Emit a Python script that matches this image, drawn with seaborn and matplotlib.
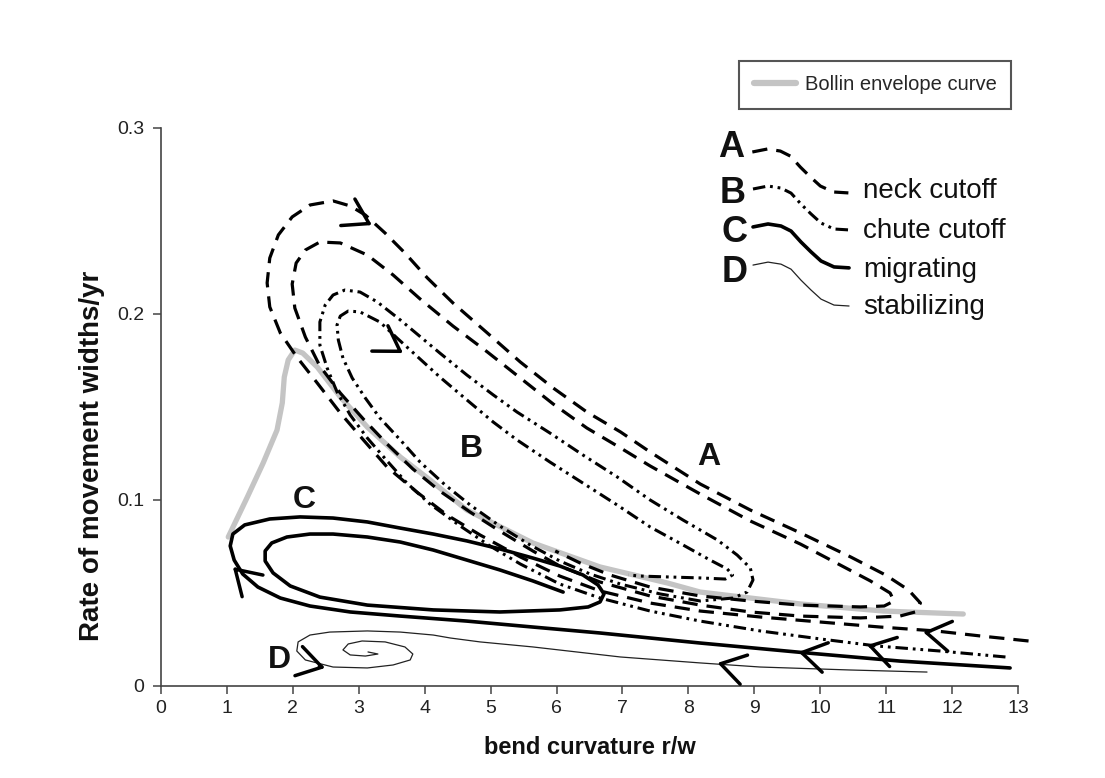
import matplotlib
matplotlib.use("Agg")
import matplotlib.pyplot as plt
import numpy as np
import pandas as pd
import seaborn as sns
from matplotlib.lines import Line2D

# ---------------- data ----------------
# A: neck cutoff (dashed spiral)
A_x = [13.16, 12.43, 11.75, 10.91, 10.00, 9.09, 8.18, 7.42, 6.66, 6.05, 5.45, 4.84, 4.34, 3.88, 3.43, 3.07,
       2.72, 2.37, 2.06, 1.81, 1.65, 1.61, 1.65, 1.78, 1.99, 2.26, 2.61, 2.87, 3.10, 3.40, 3.70, 4.04, 4.43,
       4.95, 5.45, 5.95, 6.46, 6.97, 7.42, 8.18, 8.94, 9.70, 10.46, 10.99, 11.34, 11.52, 11.44, 11.21, 10.61,
       9.70, 8.94, 8.18, 7.42, 6.66, 6.05, 5.64, 5.14, 4.69, 4.23, 3.82, 3.43, 3.07, 2.72, 2.41, 2.19, 2.03,
       1.99, 2.05, 2.19, 2.41, 2.72, 3.13, 3.52, 3.93, 4.43, 4.95, 5.45, 5.95, 6.46, 6.97, 7.42, 8.18, 8.94,
       9.70, 10.30, 10.76, 11.06, 11.12, 10.97, 10.61, 9.70, 8.94, 8.18, 7.42, 6.81, 6.36, 5.98]
A_y = [0.0242, 0.0269, 0.0296, 0.0317, 0.0344, 0.0371, 0.0403, 0.0446, 0.0511, 0.0591, 0.0694, 0.0812, 0.0919,
       0.1043, 0.1177, 0.1323, 0.1468, 0.1629, 0.1769, 0.1898, 0.2038, 0.2167, 0.2301, 0.2425, 0.2522, 0.2586,
       0.2608, 0.2581, 0.2532, 0.2435, 0.2328, 0.2194, 0.2059, 0.1898, 0.1742, 0.1602, 0.1473, 0.1366, 0.1258,
       0.1086, 0.0946, 0.0823, 0.0694, 0.0597, 0.0516, 0.0446, 0.0398, 0.0376, 0.0366, 0.0376, 0.0398, 0.0435,
       0.0484, 0.0559, 0.0645, 0.0726, 0.0833, 0.0935, 0.1048, 0.1167, 0.1301, 0.1435, 0.1575, 0.1720, 0.1876,
       0.2032, 0.2161, 0.2274, 0.2344, 0.2387, 0.2382, 0.2317, 0.2210, 0.2081, 0.1935, 0.1796, 0.1656, 0.1516,
       0.1387, 0.1280, 0.1183, 0.1032, 0.0887, 0.0763, 0.0651, 0.0565, 0.0500, 0.0457, 0.0430, 0.0425, 0.0435,
       0.0457, 0.0484, 0.0532, 0.0597, 0.0661, 0.0726]

# B: chute cutoff (dash-dot-dot spiral)
B_x = [12.81, 11.82, 10.86, 10.00, 9.09, 8.18, 7.42, 6.66, 6.05, 5.45, 4.99, 4.54, 4.08, 3.73, 3.43, 3.13, 2.87,
       2.67, 2.52, 2.41, 2.41, 2.49, 2.61, 2.79, 3.02, 3.28, 3.63, 4.23, 4.64, 5.04, 5.40, 5.90, 6.40, 6.92,
       7.42, 7.92, 8.44, 8.74, 8.94, 8.98, 8.89, 8.68, 8.18, 7.57, 6.97, 6.51, 6.05, 5.60, 5.14, 4.69, 4.31,
       3.93, 3.63, 3.32, 3.10, 2.90, 2.76, 2.69, 2.67, 2.72, 2.84, 3.02, 3.32, 3.58, 3.88, 4.23, 4.64, 5.04,
       5.40, 5.90, 6.40, 6.92, 7.42, 7.92, 8.33, 8.59, 8.67, 8.56, 8.18, 7.72, 7.27, 7.09]
B_y = [0.0156, 0.0188, 0.0215, 0.0253, 0.0296, 0.0349, 0.0403, 0.0473, 0.0548, 0.0656, 0.0753, 0.0860, 0.0978,
       0.1091, 0.1210, 0.1333, 0.1457, 0.1581, 0.1710, 0.1833, 0.1957, 0.2048, 0.2102, 0.2129, 0.2118, 0.2065,
       0.1968, 0.1790, 0.1672, 0.1565, 0.1473, 0.1360, 0.1242, 0.1124, 0.1000, 0.0892, 0.0785, 0.0704, 0.0634,
       0.0570, 0.0505, 0.0473, 0.0457, 0.0495, 0.0548, 0.0602, 0.0672, 0.0758, 0.0860, 0.0973, 0.1081, 0.1204,
       0.1323, 0.1441, 0.1548, 0.1656, 0.1763, 0.1860, 0.1941, 0.1989, 0.2016, 0.2011, 0.1957, 0.1871, 0.1774,
       0.1661, 0.1538, 0.1419, 0.1323, 0.1204, 0.1091, 0.0973, 0.0855, 0.0758, 0.0677, 0.0629, 0.0597, 0.0575,
       0.0581, 0.0586, 0.0591, 0.0597]

# C: migrating (solid loop)
C_x = [12.88, 11.21, 9.82, 8.18, 6.66, 5.64, 4.64, 3.63, 2.87, 2.26, 1.81, 1.47, 1.24, 1.11, 1.05, 1.09, 1.27,
       1.65, 2.11, 2.61, 3.13, 3.63, 4.13, 4.64, 5.14, 5.64, 6.05, 6.40, 6.63, 6.72, 6.66, 6.48, 6.05, 5.14,
       4.13, 3.13, 2.41, 1.96, 1.70, 1.58, 1.58, 1.68, 1.91, 2.26, 2.61, 3.13, 3.63, 4.13, 4.64, 5.14, 5.64, 6.10]
C_y = [0.0097, 0.0134, 0.0177, 0.0231, 0.0285, 0.0317, 0.0349, 0.0376, 0.0398, 0.0430, 0.0473, 0.0532, 0.0602,
       0.0677, 0.0753, 0.0817, 0.0866, 0.0898, 0.0909, 0.0903, 0.0882, 0.0849, 0.0817, 0.0780, 0.0737, 0.0688,
       0.0645, 0.0597, 0.0543, 0.0495, 0.0452, 0.0425, 0.0409, 0.0398, 0.0409, 0.0435, 0.0478, 0.0538, 0.0608,
       0.0672, 0.0726, 0.0769, 0.0801, 0.0817, 0.0817, 0.0801, 0.0774, 0.0731, 0.0677, 0.0624, 0.0565, 0.0505]

# D: stabilizing (thin spiral)
D_x = [11.62, 10.46, 9.09, 8.18, 6.97, 5.64, 4.84, 4.39, 4.13, 3.63, 3.13, 2.56, 2.26, 2.08, 2.06, 2.19, 2.61,
       3.13, 3.52, 3.78, 3.82, 3.70, 3.40, 3.05, 2.84, 2.76, 2.87, 3.10, 3.29, 3.14]
D_y = [0.0075, 0.0086, 0.0102, 0.0124, 0.0156, 0.0210, 0.0237, 0.0258, 0.0274, 0.0290, 0.0296, 0.0290, 0.0274,
       0.0237, 0.0188, 0.0140, 0.0102, 0.0097, 0.0113, 0.0140, 0.0172, 0.0210, 0.0237, 0.0242, 0.0226, 0.0194,
       0.0167, 0.0161, 0.0172, 0.0183]

# Bollin envelope curve
bollin_x = [1.02, 1.31, 1.55, 1.76, 1.84, 1.87, 1.93, 2.03, 2.15, 2.37, 2.72, 3.13, 3.63, 4.08, 4.64, 5.64,
            6.66, 7.68, 8.18, 9.70, 10.96, 12.17]
bollin_y = [0.0801, 0.1016, 0.1199, 0.1376, 0.1522, 0.1661, 0.1753, 0.1806, 0.1790, 0.1715, 0.1554, 0.1392,
            0.1231, 0.1108, 0.0946, 0.0769, 0.0640, 0.0554, 0.0505, 0.0441, 0.0403, 0.0387]

# direction arrows: tip and a point behind it on the curve
arrow_tip_x = [3.20, 3.67, 1.09, 2.49, 11.56, 10.71, 9.67, 8.44]
arrow_tip_y = [0.2478, 0.1790, 0.0640, 0.0097, 0.0290, 0.0220, 0.0183, 0.0124]
arrow_from_x = [2.94, 3.43, 1.31, 2.14, 11.85, 10.99, 9.97, 8.74]
arrow_from_y = [0.2527, 0.1844, 0.0565, 0.0129, 0.0274, 0.0194, 0.0161, 0.0097]

# curve labels inside the plot
label_text = ["A", "B", "C", "D"]
label_x = [8.13, 4.54, 2.00, 1.62]
label_y = [0.1188, 0.1231, 0.0957, 0.0097]

# key on the right
key_letters = ["A", "B", "C", "D"]
key_letter_x = [8.45, 8.48, 8.50, 8.50]
key_letter_y = [0.2844, 0.2597, 0.2387, 0.2172]
key_start_x = [8.97, 8.98, 8.98, 8.98]
key_start_y = [0.2871, 0.2672, 0.2468, 0.2263]
key_curve_dx = [0, 0.228, 0.425, 0.577, 0.728, 0.880, 1.032, 1.229, 1.457]
key_curve_dy = [0, 0.0016, 0.0005, -0.0022, -0.0081, -0.0134, -0.0183, -0.0215, -0.0220]
key_names = ["neck cutoff", "chute cutoff", "migrating", "stabilizing"]
key_name_x = 10.65
key_name_y = [0.2624, 0.2409, 0.2199, 0.2000]

x_ticks = list(range(0, 14))
y_ticks = [0, 0.1, 0.2, 0.3]
y_tick_labels = ["0", "0.1", "0.2", "0.3"]

# ---------------- style ----------------
sns.set_theme(style="white")
plt.rcParams["font.family"] = ["Liberation Sans", "DejaVu Sans"]
plt.rcParams["lines.scale_dashes"] = False

W, H = 1105, 778
fig = plt.figure(figsize=(W / 100, H / 100), dpi=100)
ax = fig.add_axes([161 / W, (H - 686) / H, 857 / W, 558 / H])

style_A = dict(color="black", lw=2.3, linestyle=(0, (11, 6.5)))
style_B = dict(color="black", lw=2.2, linestyle=(0, (9, 3.5, 2, 3.5, 2, 3.5)))
style_C = dict(color="black", lw=2.6, linestyle="-")
style_D = dict(color="#222222", lw=0.9, linestyle="-")
style_G = dict(color="#c4c4c4", lw=3.8, linestyle="-")


def draw(xs, ys, z=3, **kw):
    df = pd.DataFrame({"x": xs, "y": ys})
    sns.lineplot(data=df, x="x", y="y", sort=False, estimator=None, ax=ax,
                 clip_on=False, zorder=z, solid_joinstyle="round", **kw)


draw(bollin_x, bollin_y, z=2, **style_G)
draw(A_x, A_y, **style_A)
draw(B_x, B_y, **style_B)
draw(C_x, C_y, **style_C)
draw(D_x, D_y, **style_D)

for tx, ty, fx, fy in zip(arrow_tip_x, arrow_tip_y, arrow_from_x, arrow_from_y):
    sx = tx + 0.25 * (fx - tx)
    sy = ty + 0.25 * (fy - ty)
    ax.annotate("", xy=(tx, ty), xytext=(sx, sy), annotation_clip=False,
                arrowprops=dict(arrowstyle="->,head_length=0.72,head_width=0.45",
                                lw=2.5, color="black", shrinkA=0, shrinkB=0,
                                mutation_scale=24), zorder=5)

for t, x, y in zip(label_text, label_x, label_y):
    ax.text(x, y, t, fontsize=23, fontweight="bold", ha="left", va="baseline", color="#111111")

# key
key_styles = [style_A, style_B, style_C, style_D]
for L, lx, ly, sx, sy, st in zip(key_letters, key_letter_x, key_letter_y, key_start_x, key_start_y, key_styles):
    ax.text(lx, ly, L, fontsize=26, fontweight="bold", ha="left", va="baseline", color="#111111")
    draw([sx + d for d in key_curve_dx], [sy + d for d in key_curve_dy], **st)
for name, ny in zip(key_names, key_name_y):
    ax.text(key_name_x, ny, name, fontsize=20, ha="left", va="baseline", color="#111111")

# Bollin legend box (top right, above the axes)
leg = ax.legend(handles=[Line2D([], [], color="#c4c4c4", lw=4.5)], labels=["Bollin envelope curve"],
                loc="upper left", bbox_to_anchor=(739 / W, 1 - 61 / H), bbox_transform=fig.transFigure,
                frameon=True, fancybox=False, framealpha=1, edgecolor="#555555", fontsize=14.5,
                handlelength=2.1, handletextpad=0.45, borderpad=0.72, borderaxespad=0)
leg.get_frame().set_linewidth(1.5)

# axes
ax.set_xlim(0, 13)
ax.set_ylim(0, 0.3)
ax.set_xticks(x_ticks)
ax.set_xticklabels([str(v) for v in x_ticks])
ax.set_yticks(y_ticks)
ax.set_yticklabels(y_tick_labels)
for s in ["top", "right"]:
    ax.spines[s].set_visible(False)
for s in ["left", "bottom"]:
    ax.spines[s].set_color("#444444")
    ax.spines[s].set_linewidth(1.2)
ax.tick_params(axis="both", which="major", direction="out", length=6, width=1.1, color="#444444",
               labelsize=14, labelcolor="#222222", bottom=True, left=True)
ax.tick_params(axis="x", pad=4)
ax.tick_params(axis="y", pad=6)
ax.set_xlabel("bend curvature r/w", fontsize=17, fontweight="bold", labelpad=14, color="#111111")
ax.set_ylabel("Rate of movement widths/yr", fontsize=20, fontweight="bold", color="#111111")
ax.yaxis.set_label_coords((105 - 161) / 857, (686 - 456) / 558)

fig.savefig("out.png", dpi=100, facecolor="white")
